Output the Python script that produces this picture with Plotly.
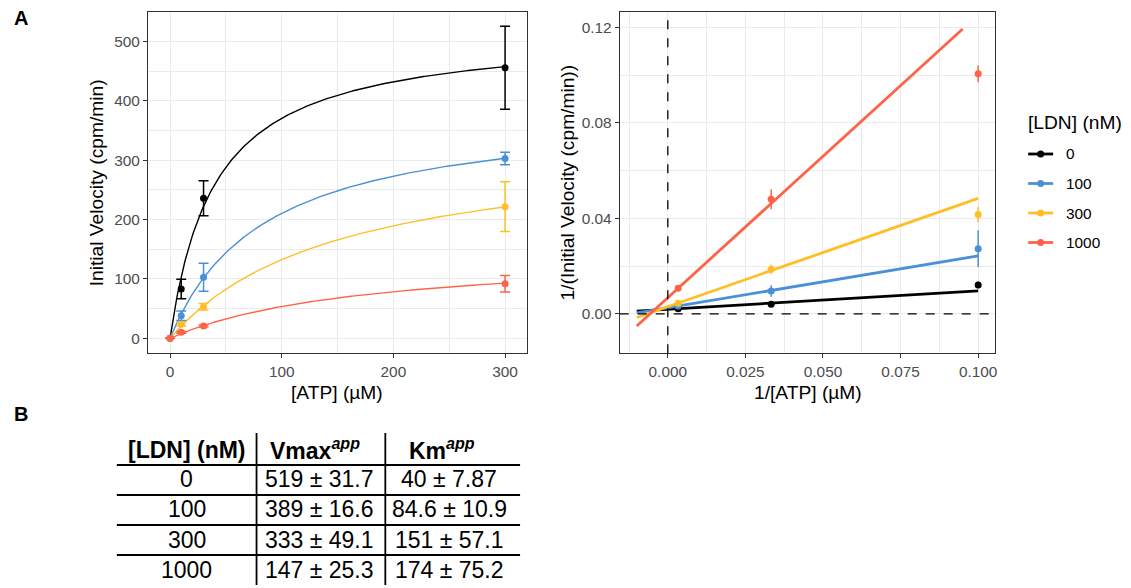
import numpy as np
import plotly.graph_objects as go

W, H = 1131, 588


def px(x):
    return x / W


def py(y):
    return 1 - y / H


# ---------------- data ----------------
ldn_labels = ["0", "100", "300", "1000"]
colors = ["#000000", "#4A90D9", "#FFBE26", "#FF6347"]

atp = [0, 10, 30, 300]
v_0 = [0, 83, 236, 456]
e_0 = [0, 16.5, 29.5, 70]
v_100 = [0, 38, 103, 303]
e_100 = [0, 8, 23.5, 10.5]
v_300 = [0, 23.6, 53, 221.8]
e_300 = [0, 3, 5.5, 42]
v_1000 = [0, 10, 20.7, 92]
e_1000 = [0, 1.5, 1.5, 14]

inv_atp = [0.00333, 0.0333, 0.1]
iv_0 = [0.0022, 0.0040, 0.0121]
ie_0 = [0.0002, 0.0004, 0.0014]
iv_100 = [0.0033, 0.0096, 0.0273]
ie_100 = [0.0003, 0.0024, 0.0077]
iv_300 = [0.0045, 0.0187, 0.0416]
ie_300 = [0.0005, 0.0020, 0.0032]
iv_1000 = [0.0107, 0.0480, 0.1005]
ie_1000 = [0.0010, 0.0042, 0.0035]

vmax = [519, 389, 333, 147]
vmax_se = [31.7, 16.6, 49.1, 25.3]
km = [40, 84.6, 151, 174]
km_se = [7.87, 10.9, 57.1, 75.2]

left_xticks = [0, 100, 200, 300]
left_yticks = [0, 100, 200, 300, 400, 500]
right_xticks = [0.0, 0.025, 0.05, 0.075, 0.1]
right_yticks = [0.0, 0.04, 0.08, 0.12]

v_series = [v_0, v_100, v_300, v_1000]
e_series = [e_0, e_100, e_300, e_1000]
iv_series = [iv_0, iv_100, iv_300, iv_1000]
ie_series = [ie_0, ie_100, ie_300, ie_1000]

FONT = "Liberation Sans"
TICKC = "#4D4D4D"
GRID = "#EBEBEB"
BORDER = "#333333"

fig = go.Figure()

# ---------- left panel: Michaelis-Menten ----------
s_grid = np.linspace(0, 300, 301)
for i in range(4):
    fit = vmax[i] * s_grid / (km[i] + s_grid)
    fig.add_trace(go.Scatter(x=s_grid, y=fit, mode="lines",
                             line=dict(color=colors[i], width=1.4),
                             xaxis="x", yaxis="y", showlegend=False,
                             hoverinfo="skip"))
for i in range(4):
    fig.add_trace(go.Scatter(x=atp, y=v_series[i], mode="markers",
                             marker=dict(color=colors[i], size=7),
                             error_y=dict(type="data", array=e_series[i],
                                          color=colors[i], thickness=1.5,
                                          width=5),
                             xaxis="x", yaxis="y", showlegend=False))

# ---------- right panel: Lineweaver-Burk ----------
x_grid = np.linspace(-0.01, 0.1, 111)
for i in range(4):
    line_y = (km[i] / vmax[i]) * x_grid + 1.0 / vmax[i]
    line_y = np.where(line_y <= 0.12, line_y, np.nan)
    fig.add_trace(go.Scatter(x=x_grid, y=line_y, mode="lines",
                             line=dict(color=colors[i], width=2.8),
                             xaxis="x2", yaxis="y2", showlegend=False,
                             hoverinfo="skip"))
for i in range(4):
    fig.add_trace(go.Scatter(x=inv_atp, y=iv_series[i], mode="markers",
                             marker=dict(color=colors[i], size=7),
                             error_y=dict(type="data", array=ie_series[i],
                                          color=colors[i], thickness=1.5,
                                          width=0),
                             xaxis="x2", yaxis="y2", showlegend=False))

axis_common = dict(showline=True, mirror=True, linecolor=BORDER, linewidth=1,
                   ticks="outside", ticklen=4, tickwidth=1, tickcolor=BORDER,
                   showgrid=True, gridcolor=GRID, gridwidth=1.2,
                   zeroline=False,
                   tickfont=dict(family=FONT, size=15.4, color=TICKC))

ydom = [py(353.3), py(11.7)]

fig.update_layout(
    width=W, height=H,
    margin=dict(l=0, r=0, t=0, b=0),
    paper_bgcolor="white", plot_bgcolor="white",
    showlegend=False,
    font=dict(family=FONT, color="black"),
    xaxis=dict(domain=[px(148.2), px(527.9)], range=[-19.8, 319.6],
               tickvals=left_xticks, anchor="y",
               minor=dict(tickvals=[50, 150, 250], showgrid=True,
                          gridcolor=GRID, gridwidth=0.6, ticks=""),
               **axis_common),
    yaxis=dict(domain=ydom, range=[-25.3, 550.5], tickvals=left_yticks,
               anchor="x",
               minor=dict(tickvals=[50, 150, 250, 350, 450], showgrid=True,
                          gridcolor=GRID, gridwidth=0.6, ticks=""),
               **axis_common),
    xaxis2=dict(domain=[px(620.8), px(997)], range=[-0.0155, 0.1055],
                tickvals=right_xticks, tickformat=".3f", anchor="y2",
                minor=dict(tickvals=[-0.0125, 0.0125, 0.0375, 0.0625, 0.0875],
                           showgrid=True, gridcolor=GRID, gridwidth=0.6,
                           ticks=""),
                **axis_common),
    yaxis2=dict(domain=ydom, range=[-0.0165, 0.1265], tickvals=right_yticks,
                tickformat=".2f", anchor="x2",
                minor=dict(tickvals=[-0.02, 0.02, 0.06, 0.10], showgrid=True,
                           gridcolor=GRID, gridwidth=0.6, ticks=""),
                **axis_common),
)

shapes = []
# dashed reference lines in right panel
shapes.append(dict(type="line", xref="x2", yref="y2 domain", x0=0, x1=0,
                   y0=0, y1=1, line=dict(color="black", width=1.3, dash="dash")))
shapes.append(dict(type="line", xref="x2 domain", yref="y2", x0=0, x1=1,
                   y0=0, y1=0, line=dict(color="black", width=1.3, dash="dash")))

annotations = []


def ann(text, x, y, size, xanchor="center", angle=0, color="black", bold=False):
    annotations.append(dict(text=f"<b>{text}</b>" if bold else text,
                            x=px(x), y=py(y), xref="paper", yref="paper",
                            showarrow=False, xanchor=xanchor, yanchor="middle",
                            textangle=angle,
                            font=dict(family=FONT, size=size, color=color)))


# panel labels
ann("A", 12, 18, 20, xanchor="left", bold=True)
ann("B", 12, 414, 20, xanchor="left", bold=True)

# axis titles
ann("Initial Velocity (cpm/min)", 97, 182.5, 19.2, angle=-90)
ann("[ATP] (µM)", 338, 392, 19.2)
ann("1/(Initial Velocity (cpm/min))", 569, 182.5, 19.2, angle=-90)
ann("1/[ATP] (µM)", 809, 392, 19.2)

# legend (manual)
ann("[LDN] (nM)", 1028, 122, 19.2, xanchor="left")
leg_y = [154, 183.5, 213, 242.5]
for i in range(4):
    shapes.append(dict(type="line", xref="paper", yref="paper",
                       x0=px(1030), x1=px(1055), y0=py(leg_y[i]), y1=py(leg_y[i]),
                       line=dict(color=colors[i], width=2.8)))
    r = 3.5
    shapes.append(dict(type="circle", xref="paper", yref="paper",
                       x0=px(1042.5 - r), x1=px(1042.5 + r),
                       y0=py(leg_y[i] + r), y1=py(leg_y[i] - r),
                       fillcolor=colors[i], line=dict(width=0)))
    ann(ldn_labels[i], 1066, leg_y[i], 15.4, xanchor="left")

# table
TFS = 23
ann("[LDN] (nM)", 187, 450, TFS, bold=True)
ann("<b>Vmax</b><sup><b><i>app</i></b></sup>", 316, 449, TFS)
ann("<b>Km</b><sup><b><i>app</i></b></sup>", 443, 449, TFS)
row_y = [478.5, 509, 539.5, 570]
for i in range(4):
    ann(ldn_labels[i], 187, row_y[i], TFS)
    ann(f"{vmax[i]:g} ± {vmax_se[i]:g}", 320, row_y[i], TFS)
    ann(f"{km[i]:g} ± {km_se[i]:g}", 450, row_y[i], TFS)
for yl in [465, 495, 525, 555]:
    shapes.append(dict(type="line", xref="paper", yref="paper",
                       x0=px(117), x1=px(521), y0=py(yl), y1=py(yl),
                       line=dict(color="black", width=1.8)))
for xl in [257, 386]:
    shapes.append(dict(type="line", xref="paper", yref="paper",
                       x0=px(xl), x1=px(xl), y0=py(433), y1=py(585),
                       line=dict(color="black", width=1.8)))

fig.update_layout(shapes=shapes, annotations=annotations)

fig.write_html("out.html")
